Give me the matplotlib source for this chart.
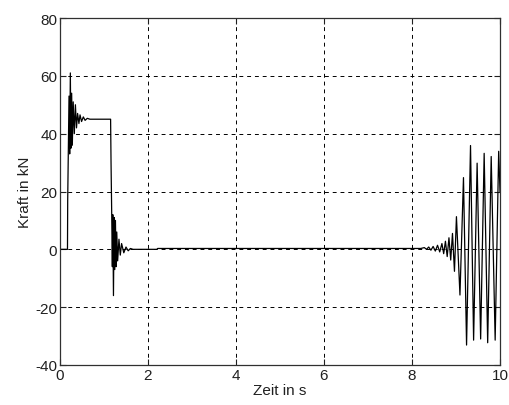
import numpy as np
import matplotlib
matplotlib.use("Agg")
import matplotlib.pyplot as plt

plt.rcParams['font.family'] = ['Liberation Sans', 'DejaVu Sans']
plt.rcParams['axes.unicode_minus'] = False

t_start = [0.0, 0.17, 0.175, 0.19, 0.205, 0.22, 0.235, 0.25, 0.265, 0.28, 0.30,
           0.325, 0.35, 0.375, 0.40, 0.43, 0.455, 0.49, 0.53, 0.57, 0.62, 0.68]
f_start = [0.0, 0.0, 17.0, 35.0, 53.0, 33.0, 61.0, 35.0, 54.0, 36.0, 51.0,
           40.0, 50.0, 42.0, 47.0, 43.5, 46.5, 44.2, 45.8, 44.6, 45.3, 45.0]

t_drop = [1.15, 1.16, 1.175, 1.19, 1.20, 1.215, 1.23, 1.245, 1.26, 1.275, 1.29,
          1.31, 1.34, 1.37, 1.40, 1.45, 1.50, 1.55, 1.60, 1.66, 1.77, 2.2, 2.22]
f_drop = [45.0, 30.0, 12.5, -6.0, 12.0, -16.0, 11.0, -7.0, 10.0, -6.0, 6.0,
          -4.0, 3.5, -2.0, 2.0, -1.2, 0.8, -0.5, 0.3, 0.0, 0.0, 0.0, 0.3]

t_end = [8.2, 8.28, 8.33, 8.38, 8.43, 8.48, 8.53, 8.58, 8.63, 8.68, 8.72, 8.76,
         8.80, 8.84, 8.88, 8.92, 8.965, 9.01, 9.09, 9.17, 9.24, 9.33, 9.40, 9.48,
         9.56, 9.64, 9.72, 9.80, 9.89, 9.97, 10.0]
f_end = [0.3, 0.6, 0.0, 0.8, -0.3, 1.0, -0.6, 1.4, -0.9, 2.0, -1.5, 2.8,
         -2.5, 4.0, -3.7, 5.5, -7.6, 11.3, -15.8, 24.8, -33.1, 35.9, -31.4, 29.8,
         -31.0, 33.2, -32.3, 32.1, -31.4, 33.9, 20.0]

t = np.array(t_start + t_drop + t_end)
f = np.array(f_start + f_drop + f_end)

x_ticks = [0, 2, 4, 6, 8, 10]
y_ticks = [-40, -20, 0, 20, 40, 60, 80]

fig = plt.figure(figsize=(5.09, 4.06), dpi=100)
ax = fig.add_axes([60/509, 1-366/406, 440/509, 347/406])

ax.plot(t, f, color='black', linewidth=0.9)

ax.set_xlim(0, 10)
ax.set_ylim(-40, 80)
ax.set_xticks(x_ticks)
ax.set_yticks(y_ticks)
ax.grid(True, color='black', linestyle=(0, (4, 4)), linewidth=0.7)
ax.tick_params(direction='in', length=4, top=True, right=True,
               labelsize=11, colors='#202020', pad=2)
for s in ax.spines.values():
    s.set_color('#303030')
    s.set_linewidth(0.9)

ax.set_xlabel('Zeit in s', fontsize=11, labelpad=1, color='#202020')
ax.set_ylabel('Kraft in kN', fontsize=11, labelpad=2, color='#202020')

plt.savefig("out.png", dpi=100)
